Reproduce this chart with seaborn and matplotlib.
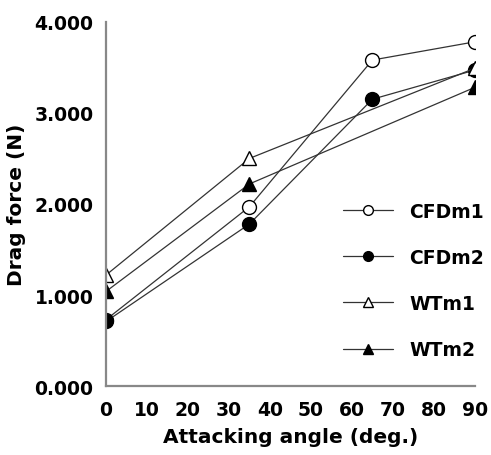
import matplotlib
matplotlib.use('Agg')
import matplotlib.pyplot as plt
import pandas as pd
import seaborn as sns

# Data
cfd_angles = [0, 35, 65, 90]
wt_angles = [0, 35, 90]
cfdm1 = [0.73, 1.97, 3.58, 3.78]
cfdm2 = [0.71, 1.78, 3.15, 3.47]
wtm1 = [1.22, 2.50, 3.49]
wtm2 = [1.04, 2.22, 3.28]

series = [
    ('CFDm1', cfd_angles, cfdm1, 'o', 'white'),
    ('CFDm2', cfd_angles, cfdm2, 'o', 'black'),
    ('WTm1', wt_angles, wtm1, '^', 'white'),
    ('WTm2', wt_angles, wtm2, '^', 'black'),
]

sns.set_style('white')
plt.rcParams['font.family'] = ['DejaVu Sans']
plt.rcParams['font.weight'] = 'bold'
plt.rcParams['text.color'] = 'black'
plt.rcParams['axes.labelcolor'] = 'black'
plt.rcParams['xtick.labelcolor'] = 'black'
plt.rcParams['ytick.labelcolor'] = 'black'

fig = plt.figure(figsize=(4.91, 4.56), dpi=100)
ax = fig.add_axes([0.216, 0.151, 0.751, 0.799])

for name, x, y, m, fc in series:
    df = pd.DataFrame({'angle': x, 'force': y})
    sns.lineplot(data=df, x='angle', y='force', ax=ax, color='#333333',
                 linewidth=0.9, marker=m, markersize=10, markerfacecolor=fc,
                 markeredgecolor='black', markeredgewidth=1.0, label=name)

ax.set_xlim(0, 90)
ax.set_ylim(0, 4)
ax.set_xticks(range(0, 91, 10))
ax.set_yticks([0, 1, 2, 3, 4])
ax.set_yticklabels([f'{v:.3f}' for v in [0, 1, 2, 3, 4]])

for s in ['top', 'right']:
    ax.spines[s].set_visible(False)
for s in ['left', 'bottom']:
    ax.spines[s].set_color('#888888')
    ax.spines[s].set_linewidth(1.6)

ax.tick_params(axis='both', direction='in', length=4, width=1.2,
               color='#666666', labelsize=13.5)
ax.tick_params(axis='y', pad=9)
ax.tick_params(axis='x', pad=10)

ax.set_xlabel('Attacking angle (deg.)', fontsize=14.5, fontweight='bold', labelpad=6)
ax.set_ylabel('Drag force (N)', fontsize=14.5, fontweight='bold', labelpad=6)

leg = ax.legend(loc='upper left', bbox_to_anchor=(0.596, 0.553), frameon=False,
                fontsize=13.5, handlelength=2.7, handletextpad=0.85,
                labelspacing=1.45, markerscale=0.7)

fig.savefig('out.png', dpi=100)
